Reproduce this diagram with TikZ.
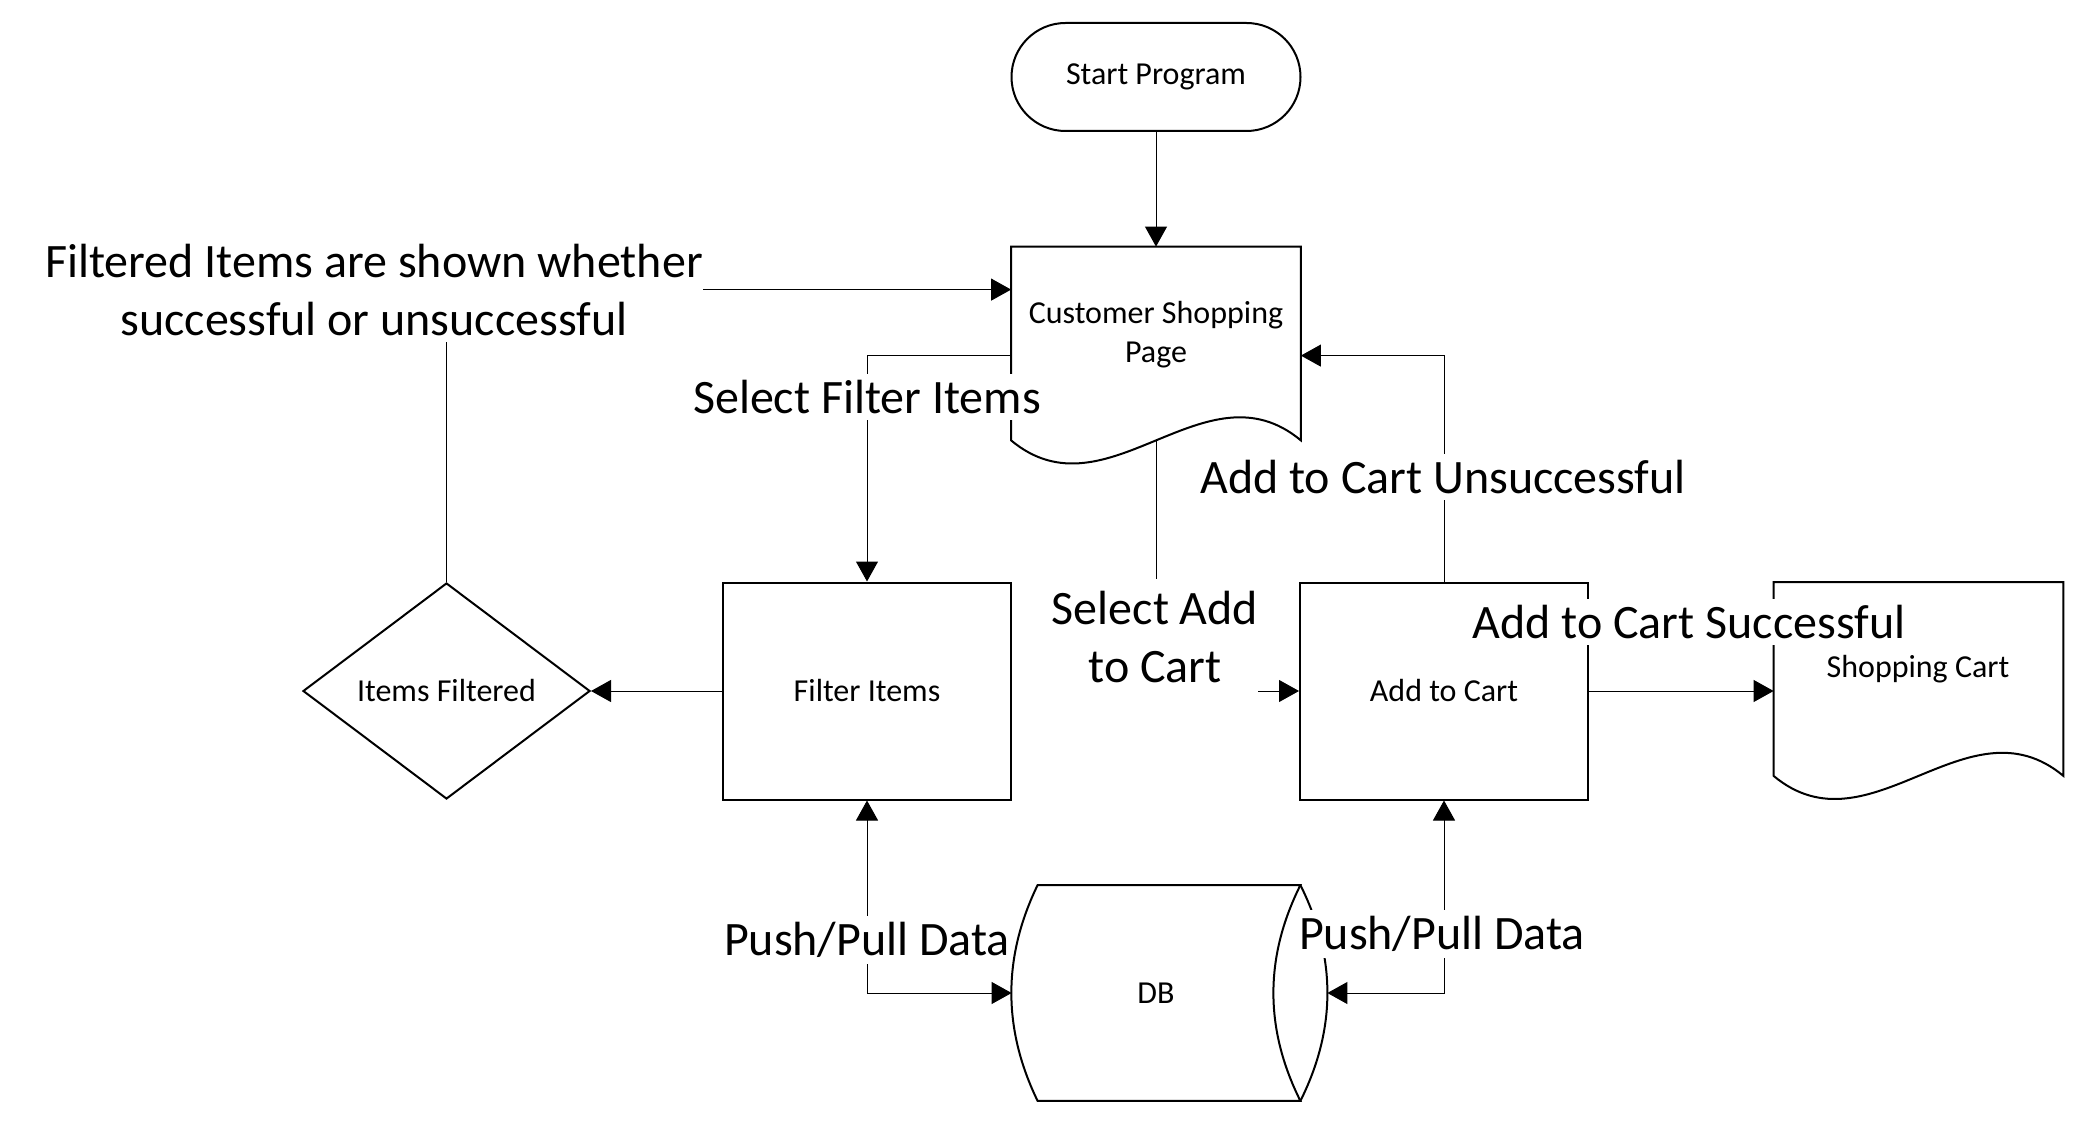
\documentclass[tikz,border=0pt]{standalone}
\usepackage{fontspec}
\setmainfont{Carlito}
\usetikzlibrary{arrows.meta,shapes.geometric,calc}

\begin{document}
\begin{tikzpicture}[x=0.5pt, y=-0.5pt,
  outline/.style={line width=1pt},
  boxtext/.style={font=\fontsize{16}{19.5}\selectfont, align=center},
  procbox/.style={boxtext, draw, outline, minimum width=144pt, minimum height=108.5pt},
  docbox/.style={minimum width=144.5pt, minimum height=96.5pt, inner sep=0pt},
  flow/.style={line width=0.5pt, -{Triangle[length=10pt,width=11pt]}},
  twoway/.style={line width=0.5pt, {Triangle[length=10pt,width=11pt]}-{Triangle[length=10pt,width=11pt]}},
  lbl/.style={fill=white, inner xsep=0pt, inner ysep=3pt, align=center, font=\fontsize{24}{29}\selectfont}]

  \useasboundingbox (0,0) rectangle (2084,1123);

  % Formas
  \node[procbox, rounded corners=27pt, minimum height=54pt, minimum width=144.5pt] (start) at (1156,77) {Start Program};
  \node[docbox] (csp) at (1156,343.5) {};
  \node[boxtext] (csptext) at (1156,335) {Customer Shopping\\Page};
  \node[procbox] (filt) at (867,691) {Filter Items};
  \node[procbox] (atc) at (1444,691) {Add to Cart};
  \node[boxtext, draw, outline, diamond, inner sep=0pt, minimum width=143.5pt, minimum height=108pt] (ifilt) at (446.5,691) {Items Filtered};
  \node[docbox] (sc) at (1918.5,679) {};
  \node[boxtext] (sctext) at (1918,669) {Shopping Cart};
  \node[docbox, boxtext, minimum width=144pt, minimum height=107.5pt] (db) at (1156,993) {DB};
  \coordinate (dbr) at ($(db.east)+(27,0)$);

  % Documentos
  \draw[outline] (csp.south west) -- (csp.north west) -- (csp.north east) -- (csp.south east)
    .. controls ($(csp.south east)+(-96,-80)$) and ($(csp.south west)+(96,80)$) .. cycle;
  \draw[outline] (sc.south west) -- (sc.north west) -- (sc.north east) -- (sc.south east)
    .. controls ($(sc.south east)+(-96,-80)$) and ($(sc.south west)+(96,80)$) .. cycle;

  % Base de datos
  \draw[outline] ($(db.north west)+(26,0)$) -- (db.north east)
    .. controls ($(db.north east)+(-36,72)$) and ($(db.south east)+(-36,-72)$) .. (db.south east)
    -- ($(db.south west)+(26,0)$)
    .. controls ($(db.south west)+(-9,-72)$) and ($(db.north west)+(-9,72)$) .. cycle;
  \draw[outline] (db.north east) .. controls ($(db.north east)+(36,72)$) and ($(db.south east)+(36,-72)$) .. (db.south east);

  % Conectores
  \draw[flow] (start) -- (csp);
  \draw[flow] (ifilt.north) |- ($(csp.north west)+(0,43)$);
  \draw[flow] ($(csp.north west)+(0,109)$) -| (filt.north);
  \draw[flow] (atc.north) |- ($(csp.north east)+(0,109)$);
  \draw[flow] (csp.south) |- (atc.west);
  \draw[flow] (filt.west) -- (ifilt.east);
  \draw[flow] (atc.east) -- (atc.east -| sc.west);
  \draw[twoway] (filt.south) |- (db.west);
  \draw[twoway] (atc.south) |- (dbr);

  % Etiquetas
  \node[lbl] (lfiltered) at (374,290) {Filtered Items are shown whether\\successful or unsuccessful};
  \node[lbl] (lselfilt) at (867,397) {Select Filter Items};
  \node[lbl] (lunsucc) at (1443,477) {Add to Cart Unsuccessful};
  \node[lbl, inner ysep=6pt] (lseladd) at (1155,637) {Select Add\\to Cart};
  \node[lbl] (lsucc) at (1689,622) {Add to Cart Successful};
  \node[lbl] (lpush) at (867,940) {Push/Pull Data};
  \node[lbl] (lpull) at (1442,934) {Push/Pull Data};
\end{tikzpicture}
\end{document}
